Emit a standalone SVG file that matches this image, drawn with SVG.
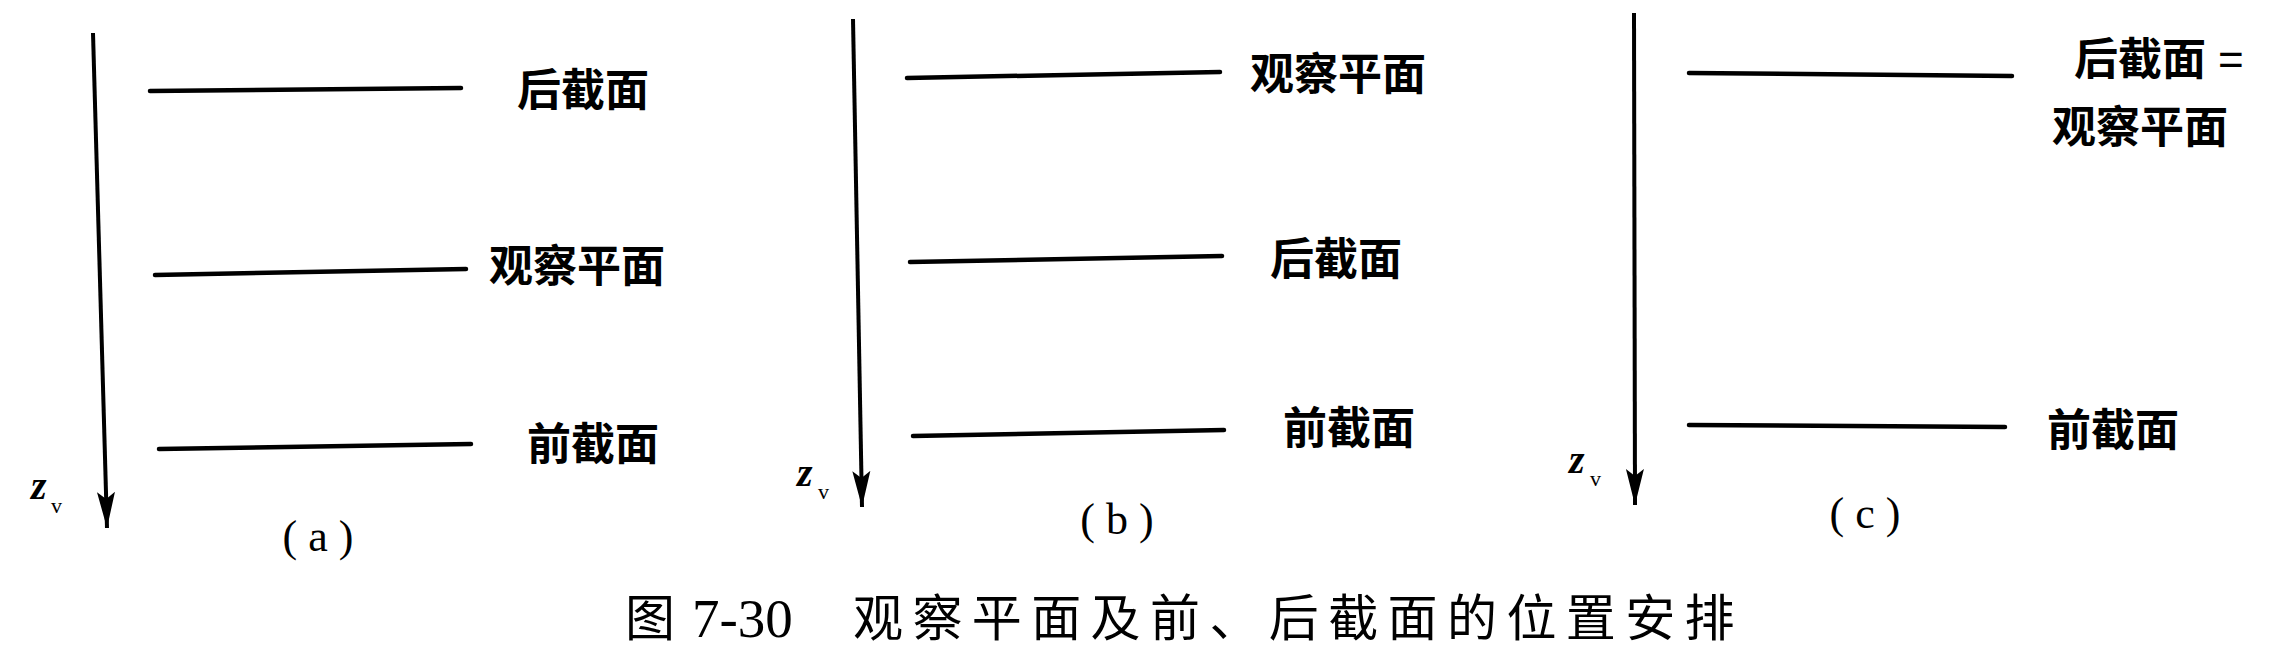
<svg xmlns="http://www.w3.org/2000/svg" width="2292" height="665" viewBox="0 0 2292 665">
<style>
.ln{stroke:#000;stroke-width:4.5;stroke-linecap:round;fill:none}
.ax{stroke:#000;stroke-width:4;fill:none}
.lb{font-family:"Noto Sans CJK SC","Noto Sans",sans-serif;font-size:44px;font-weight:700;fill:#000}
.cap{font-family:"Noto Sans CJK SC","Noto Sans",sans-serif;font-size:50px;font-weight:400;fill:#000}
.num{font-family:"Liberation Serif",serif;font-size:55px;fill:#000}
.pl{font-family:"Liberation Serif",serif;font-size:44px;fill:#000;text-anchor:middle}
.z{font-family:"Liberation Serif",serif;font-style:italic;font-weight:700;font-size:40px;fill:#000}
.v{font-family:"Liberation Serif",serif;font-size:22px;fill:#000}
</style>
<defs>
<marker id="ah" markerUnits="userSpaceOnUse" markerWidth="40" markerHeight="24" viewBox="0 0 40 24" refX="36" refY="12" orient="auto">
<path d="M0,3 L36,12 L0,21 L7,12 Z" fill="#000"/>
</marker>
</defs>
<rect width="2292" height="665" fill="#fff"/>
<g id="connectors">
<line class="ax" x1="93" y1="33" x2="107" y2="528" marker-end="url(#ah)"/>
<line class="ax" x1="853" y1="19" x2="862" y2="507" marker-end="url(#ah)"/>
<line class="ax" x1="1634" y1="13" x2="1635" y2="505" marker-end="url(#ah)"/>
<line class="ln" x1="150" y1="91" x2="461" y2="88"/>
<line class="ln" x1="155" y1="275" x2="466" y2="269"/>
<line class="ln" x1="159" y1="449" x2="471" y2="444"/>
<line class="ln" x1="907" y1="78" x2="1220" y2="72"/>
<line class="ln" x1="910" y1="262" x2="1222" y2="256"/>
<line class="ln" x1="913" y1="436" x2="1224" y2="430"/>
<line class="ln" x1="1689" y1="73" x2="2012" y2="76"/>
<line class="ln" x1="1689" y1="425" x2="2005" y2="427"/>
</g>
<g id="panel-a">
<text class="lb" x="517" y="106">后截面</text>
<text class="lb" x="489" y="282">观察平面</text>
<text class="lb" x="527" y="460">前截面</text>
<text class="z" x="31" y="499">z</text><text class="v" x="51" y="513">v</text>
<text class="pl" x="318" y="551">( a )</text>
</g>
<g id="panel-b">
<text class="lb" x="1250" y="90">观察平面</text>
<text class="lb" x="1270" y="275">后截面</text>
<text class="lb" x="1283" y="444">前截面</text>
<text class="z" x="797" y="486">z</text><text class="v" x="818" y="499">v</text>
<text class="pl" x="1117" y="534">( b )</text>
</g>
<g id="panel-c">
<text class="lb" x="2074" y="75">后截面<tspan dx="12" font-family="Liberation Sans" font-weight="400">=</tspan></text>
<text class="lb" x="2052" y="143">观察平面</text>
<text class="lb" x="2047" y="446">前截面</text>
<text class="z" x="1569" y="473">z</text><text class="v" x="1590" y="486">v</text>
<text class="pl" x="1865" y="528">( c )</text>
</g>
<g id="caption">
<text class="cap" x="625" y="636">图</text>
<text class="num" x="692" y="637">7-30</text>
<text class="cap" x="853" y="636" letter-spacing="9.4">观察平面及前、后截面的位置安排</text>
</g>
</svg>
